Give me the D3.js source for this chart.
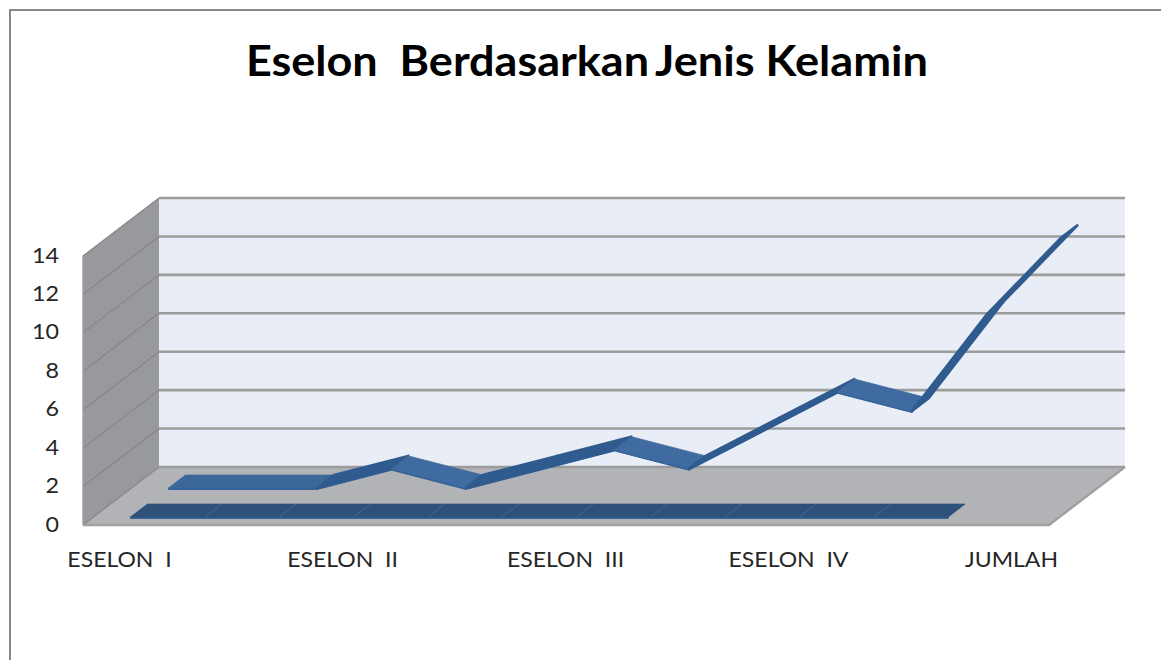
<!DOCTYPE html>
<html>
<head>
<meta charset="utf-8">
<script src="https://cdn.jsdelivr.net/npm/d3@7"></script>
<style>
html,body{margin:0;padding:0;background:#fff;overflow:hidden}
svg{display:block}
text{font-family:Lato,"Open Sans",sans-serif;white-space:pre}
</style>
</head>
<body>
<svg id="chart" width="1161" height="660"></svg>
<script>
const titleText = "Eselon  Berdasarkan";
const titleText2 = "Jenis Kelamin";
const categories = ["ESELON  I","","","ESELON  II","","","ESELON  III","","","ESELON  IV","","","JUMLAH"];
const seriesFront = [0,0,0,0,0,0,0,0,0,0,0,0];
const seriesBack = [0,0,0,1,0,1,2,1,3,5,4,9,13];
const yTicks = [0,2,4,6,8,10,12,14];

const svg = d3.select("#chart");
const x = d3.scalePoint().domain(d3.range(categories.length)).range([120,1012]);
const y = d3.scaleLinear().domain([0,14]).range([525,256]);
const depthX = 76, depthY = 58;
const proj = (px,py,t)=>[px+depthX*t, py-depthY*t];
const xLeft = 83, xRight = 1049;
const pts = a=>a.map(p=>p.join(",")).join(" ");

// frame
svg.append("path").attr("d","M10 660V10H1161").attr("fill","none").attr("stroke","#888").attr("stroke-width",2);

// left wall, back wall, floor
svg.append("polygon").attr("fill","#97999c")
  .attr("points",pts([proj(xLeft,y(14),0),proj(xLeft,y(14),1),proj(xLeft,y(0),1),proj(xLeft,y(0),0)]));
svg.append("polygon").attr("fill","#e9edf5")
  .attr("points",pts([proj(xLeft,y(14),1),proj(xRight,y(14),1),proj(xRight,y(0),1),proj(xLeft,y(0),1)]));
svg.append("polygon").attr("fill","#b1b3b6")
  .attr("points",pts([proj(xLeft,y(0),0),proj(xRight,y(0),0),proj(xRight,y(0),1),proj(xLeft,y(0),1)]));

// gridlines
yTicks.forEach(v=>{
  const a=proj(xLeft,y(v),0), b=proj(xLeft,y(v),1), c=proj(xRight,y(v),1);
  svg.append("line").attr("x1",a[0]).attr("y1",a[1]).attr("x2",b[0]).attr("y2",b[1])
    .attr("stroke","#868686").attr("stroke-width",1.2);
  svg.append("line").attr("x1",b[0]).attr("y1",b[1]).attr("x2",c[0]).attr("y2",c[1])
    .attr("stroke","#9c9c9c").attr("stroke-width",2.6);
});
// outer floor edge
{
  const a=proj(xLeft,y(0),0), b=proj(xRight,y(0),0), c=proj(xRight,y(0),1);
  svg.append("polyline").attr("points",pts([a,b,c])).attr("fill","none").attr("stroke","#a0a0a0").attr("stroke-width",2.4);
  const d=proj(xLeft,y(14),0);
  svg.append("line").attr("x1",d[0]).attr("y1",d[1]).attr("x2",a[0]).attr("y2",a[1]).attr("stroke","#a0a0a0").attr("stroke-width",1.5);
}

// ribbon drawing
function ribbon(values,t0,t1,colors){
  const g = svg.append("g");
  const segs = d3.pairs(values.map((v,i)=>({i,v})));
  segs.forEach(([a,b])=>{
    const A=proj(x(a.i),y(a.v),t0), B=proj(x(a.i),y(a.v),t1),
          C=proj(x(b.i),y(b.v),t1), D=proj(x(b.i),y(b.v),t0);
    const fill = b.v>a.v ? colors.up : (b.v<a.v ? colors.down : colors.flat);
    const sw = b.v>a.v ? 2.6 : 0.8;
    g.append("polygon").attr("fill",colors.edge).attr("stroke",colors.edge).attr("stroke-width",1)
      .attr("points",pts([A,D,[D[0],D[1]+1.5],[A[0],A[1]+1.5]]));
    g.append("polygon").attr("fill",fill).attr("stroke",fill).attr("stroke-width",sw).attr("stroke-linejoin","round")
      .attr("points",pts([A,B,C,D]));
  });
  if(colors.seam){
    segs.slice(0,-1).forEach(([a,b])=>{
      const C=proj(x(b.i),y(b.v),t1), D=proj(x(b.i),y(b.v),t0);
      g.append("line").attr("x1",D[0]).attr("y1",D[1]).attr("x2",C[0]).attr("y2",C[1])
        .attr("stroke",colors.seam).attr("stroke-width",1);
    });
  }
}
ribbon(seriesBack,0.64,0.86,{up:"#2f5b8e",down:"#3f6ba0",flat:"#3c6799",edge:"#30619a",seam:null});
ribbon(seriesFront,0.14,0.36,{up:"#2e5179",down:"#2e5179",flat:"#2e5179",edge:"#33608f",seam:"#3f6996"});

// axes
const stretch = (sel,k)=>sel.each(function(){
  d3.select(this).attr("textLength",this.getComputedTextLength()*k).attr("lengthAdjust","spacingAndGlyphs");
});
const yAxis = d3.axisLeft(y).tickValues(yTicks).tickSize(0).tickPadding(0);
svg.append("g").attr("transform","translate(59,-1)").call(yAxis)
  .call(g=>g.select(".domain").remove())
  .selectAll("text").attr("font-size",22).attr("fill","#262626").style("font-family","Lato,sans-serif").call(stretch,1.06);

const labelled = d3.range(categories.length).filter(i=>categories[i]);
const xAxis = d3.axisBottom(x).tickValues(labelled).tickFormat(i=>categories[i]).tickSize(0).tickPadding(0);
svg.append("g").attr("transform","translate(-1,552)").call(xAxis)
  .call(g=>g.select(".domain").remove())
  .selectAll("text").attr("font-size",21.5).attr("fill","#262626").style("font-family","Lato,sans-serif").call(stretch,1.07);

// title
svg.append("text").attr("x",246).attr("y",76).attr("font-size",42).attr("font-weight",700).attr("fill","#000")
  .attr("textLength",403).attr("lengthAdjust","spacingAndGlyphs").text(titleText);
svg.append("text").attr("x",655).attr("y",76).attr("font-size",42).attr("font-weight",700).attr("fill","#000")
  .attr("textLength",273).attr("lengthAdjust","spacingAndGlyphs").text(titleText2);
</script>
</body>
</html>
